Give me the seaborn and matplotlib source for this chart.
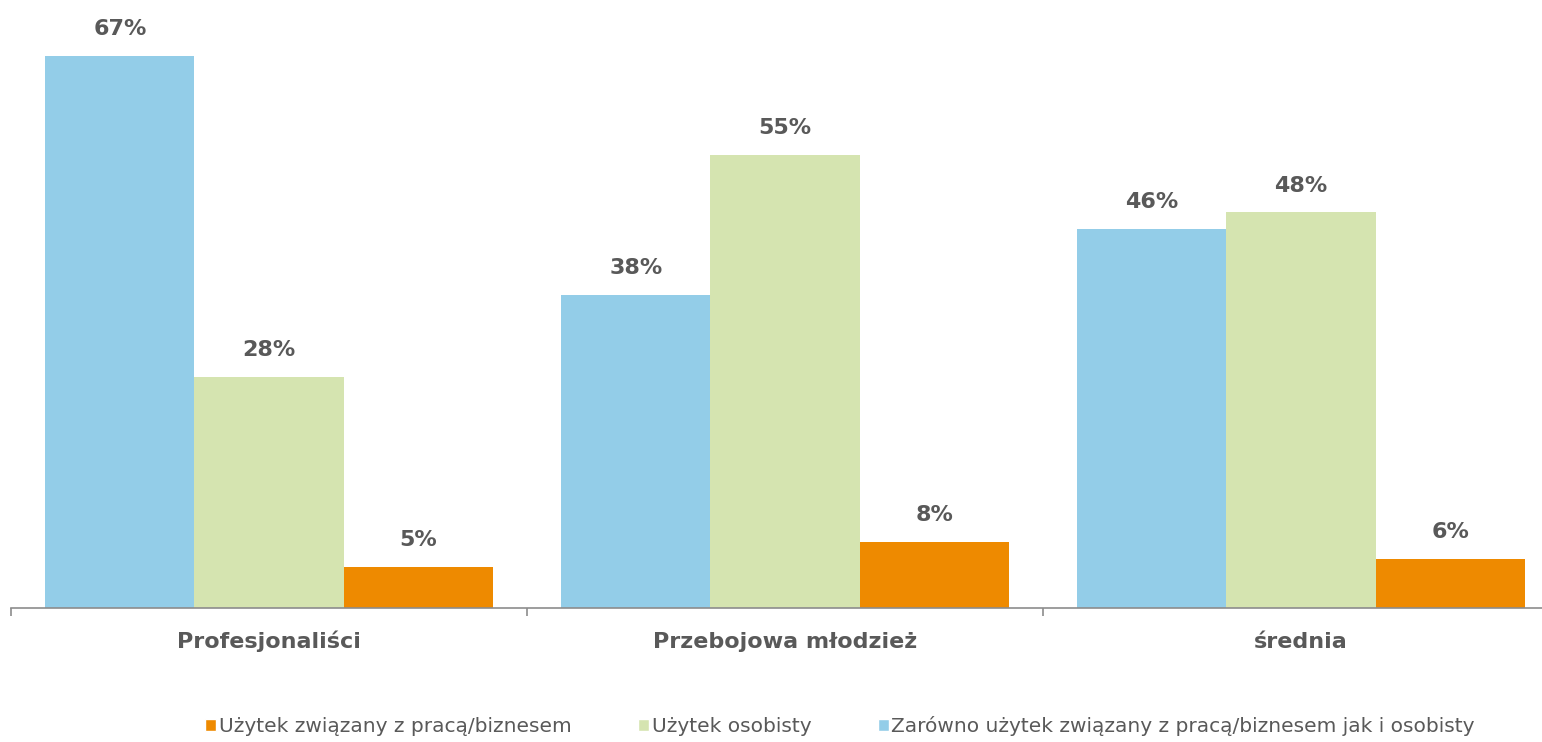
import matplotlib
matplotlib.use("Agg")
import matplotlib.pyplot as plt
import seaborn as sns
import pandas as pd
from matplotlib.patches import Patch

categories = ["Profesjonaliści", "Przebojowa młodzież", "średnia"]
series_names = ["Zarówno użytek związany z pracą/biznesem jak i osobisty",
                "Użytek osobisty",
                "Użytek związany z pracą/biznesem"]
both_vals = [67, 38, 46]
personal_vals = [28, 55, 48]
business_vals = [5, 8, 6]
colors = ["#93CDE8", "#D5E4B0", "#EE8A00"]

rows = []
for i, c in enumerate(categories):
    rows.append((c, series_names[0], both_vals[i]))
    rows.append((c, series_names[1], personal_vals[i]))
    rows.append((c, series_names[2], business_vals[i]))
df = pd.DataFrame(rows, columns=["cat", "series", "val"])

sns.set_theme(style="white")
plt.rcParams['font.family'] = ['DejaVu Sans']

fig = plt.figure(figsize=(15.42, 7.42), dpi=100)
W, H = 1542, 742
ax_left, ax_right = 11, 1559
base_y, top_y = 608, 31
ax = fig.add_axes([ax_left / W, 1 - base_y / H, (ax_right - ax_left) / W, (base_y - top_y) / H])

sns.barplot(data=df, x="cat", y="val", hue="series", hue_order=series_names,
            palette=colors, order=categories, width=0.867, saturation=1,
            ax=ax, legend=False, linewidth=0)

ax.set_ylim(0, 70)
ax.set_xlim(-0.5, 2.5)
for s in ["top", "right", "left"]:
    ax.spines[s].set_visible(False)
ax.spines["bottom"].set_color("#8C8C8C")
ax.spines["bottom"].set_linewidth(1.2)
ax.set_yticks([])
ax.set_xlabel("")
ax.set_ylabel("")
ax.tick_params(axis="x", which="major", length=0, pad=28.5)
ax.set_xticks([-0.5, 0.5, 1.5, 2.5], minor=True)
ax.tick_params(axis="x", which="minor", bottom=True, length=6, color="#8C8C8C",
               width=1.2, direction="out")
for lbl in ax.get_xticklabels():
    lbl.set_fontsize(16)
    lbl.set_fontweight("bold")
    lbl.set_color("#595959")
    lbl.set_verticalalignment("baseline")

for cont in ax.containers:
    for bar in cont:
        h = bar.get_height()
        ax.annotate(f"{h:.0f}%", (bar.get_x() + bar.get_width() / 2, h),
                    xytext=(0, 15), textcoords="offset points",
                    ha="center", va="baseline", fontsize=16, fontweight="bold",
                    color="#595959")

handles = [Patch(facecolor=colors[2], label=series_names[2]),
           Patch(facecolor=colors[1], label=series_names[1]),
           Patch(facecolor=colors[0], label=series_names[0])]
fig.legend(handles=handles, loc="center", bbox_to_anchor=(840 / W, 1 - 726 / H),
           ncol=3, frameon=False, fontsize=14.5, labelcolor="#595959",
           handlelength=0.55, handleheight=0.55, handletextpad=0.12,
           columnspacing=3.3, borderpad=0, borderaxespad=0)

fig.savefig("out.png", dpi=100)
